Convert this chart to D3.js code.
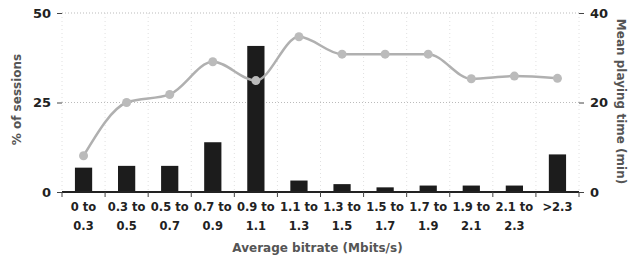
<!DOCTYPE html>
<html>
<head>
<meta charset="utf-8">
<script src="https://cdn.jsdelivr.net/npm/d3@7"></script>
<style>
  body { margin: 0; background: #fff; }
  text { font-family: "DejaVu Sans", Verdana, sans-serif; font-weight: bold; }
</style>
</head>
<body>
<div id="chart"></div>
<script>
// data
var catTop = ["0 to", "0.3 to", "0.5 to", "0.7 to", "0.9 to", "1.1 to", "1.3 to", "1.5 to", "1.7 to", "1.9 to", "2.1 to", ">2.3"]
var catBottom = ["0.3", "0.5", "0.7", "0.9", "1.1", "1.3", "1.5", "1.7", "1.9", "2.1", "2.3", ""]
var sessions = [6.8, 7.3, 7.3, 13.9, 40.8, 3.2, 2.2, 1.3, 1.8, 1.8, 1.8, 10.5]
var playTime = [8.1, 20.0, 21.8, 29.1, 24.9, 34.7, 30.8, 30.8, 30.8, 25.3, 25.9, 25.4]
var leftTicks = [0, 25, 50]
var rightTicks = [0, 20, 40]

var margin = { top: 13, right: 55, bottom: 70, left: 62 }
var width = 634 - margin.left - margin.right,
  height = 262 - margin.top - margin.bottom

var svg = d3.select("#chart").append("svg")
  .attr("width", 634)
  .attr("height", 262)
  .append("g")
  .attr("transform", "translate(" + margin.left + "," + margin.top + ")")

var idx = d3.range(catTop.length)

var x = d3.scaleBand().domain(idx).range([0, width]).paddingInner(0.6).paddingOuter(0.3)
var xEdge = d3.scaleLinear().domain([0, idx.length]).range([0, width])
var yLeft = d3.scaleLinear().domain([0, 50]).range([height, 0])
var yRight = d3.scaleLinear().domain([0, 40]).range([height, 0])

// dotted grid
svg.selectAll(".vgrid")
  .data(d3.range(idx.length + 1))
  .enter().append("line")
  .attr("x1", function (d) { return xEdge(d) })
  .attr("x2", function (d) { return xEdge(d) })
  .attr("y1", 0)
  .attr("y2", height)
  .attr("stroke", "#e0e0e0")
  .attr("stroke-dasharray", "1,3")

svg.selectAll(".hgrid")
  .data([25, 50])
  .enter().append("line")
  .attr("x1", 0)
  .attr("x2", width)
  .attr("y1", function (d) { return yLeft(d) })
  .attr("y2", function (d) { return yLeft(d) })
  .attr("stroke", "#bbb")
  .attr("stroke-dasharray", "1,2")

// bars
svg.selectAll(".bar")
  .data(sessions)
  .enter().append("rect")
  .attr("class", "bar")
  .attr("x", function (d, i) { return x(i) })
  .attr("width", x.bandwidth())
  .attr("y", function (d) { return yLeft(d) })
  .attr("height", function (d) { return height - yLeft(d) })
  .attr("fill", "#1c1c1c")

// line
var line = d3.line()
  .x(function (d, i) { return x(i) + x.bandwidth() / 2 })
  .y(function (d) { return yRight(d) })
  .curve(d3.curveMonotoneX)

svg.append("path")
  .datum(playTime)
  .attr("d", line)
  .attr("fill", "none")
  .attr("stroke", "#b0b0b0")
  .attr("stroke-width", 2.5)

svg.selectAll(".dot")
  .data(playTime)
  .enter().append("circle")
  .attr("cx", function (d, i) { return x(i) + x.bandwidth() / 2 })
  .attr("cy", function (d) { return yRight(d) })
  .attr("r", 4.5)
  .attr("fill", "#bbb")

// axes
var leftAxis = svg.append("g")
  .call(d3.axisLeft(yLeft).tickValues(leftTicks).tickSize(5).tickPadding(6))
leftAxis.select(".domain").remove()
leftAxis.selectAll("text").attr("font-size", 13).attr("fill", "#222")
leftAxis.selectAll("line").attr("stroke", "#444")

var rightAxis = svg.append("g")
  .attr("transform", "translate(" + width + ",0)")
  .call(d3.axisRight(yRight).tickValues(rightTicks).tickSize(5).tickPadding(6))
rightAxis.select(".domain").remove()
rightAxis.selectAll("text").attr("font-size", 13).attr("fill", "#222")
rightAxis.selectAll("line").attr("stroke", "#444")

var bottom = svg.append("g").attr("transform", "translate(0," + height + ")")
bottom.append("line")
  .attr("x1", 0).attr("x2", width)
  .attr("stroke", "#222").attr("stroke-width", 2)
bottom.selectAll(".btick")
  .data(d3.range(idx.length + 1))
  .enter().append("line")
  .attr("x1", function (d) { return xEdge(d) })
  .attr("x2", function (d) { return xEdge(d) })
  .attr("y1", 0).attr("y2", 5)
  .attr("stroke", "#444")

var labels = bottom.selectAll(".cat")
  .data(idx)
  .enter().append("text")
  .attr("text-anchor", "middle")
  .attr("font-size", 11.5)
  .attr("fill", "#222")
  .attr("x", function (d) { return x(d) + x.bandwidth() / 2 })
labels.append("tspan").attr("x", function (d) { return x(d) + x.bandwidth() / 2 })
  .attr("y", 19).text(function (d) { return catTop[d] })
labels.append("tspan").attr("x", function (d) { return x(d) + x.bandwidth() / 2 })
  .attr("y", 38).text(function (d) { return catBottom[d] })

// axis titles
svg.append("text")
  .attr("x", width / 2 - 3)
  .attr("y", height + 60)
  .attr("text-anchor", "middle")
  .attr("font-size", 12)
  .attr("fill", "#555")
  .text("Average bitrate (Mbits/s)")

svg.append("text")
  .attr("transform", "translate(-41," + (height / 2 - 3) + ") rotate(-90)")
  .attr("text-anchor", "middle")
  .attr("font-size", 12)
  .attr("fill", "#555")
  .text("% of sessions")

svg.append("text")
  .attr("transform", "translate(" + (width + 38) + "," + (height / 2 - 1) + ") rotate(90)")
  .attr("text-anchor", "middle")
  .attr("font-size", 12)
  .attr("fill", "#555")
  .text("Mean playing time (min)")
</script>
</body>
</html>
